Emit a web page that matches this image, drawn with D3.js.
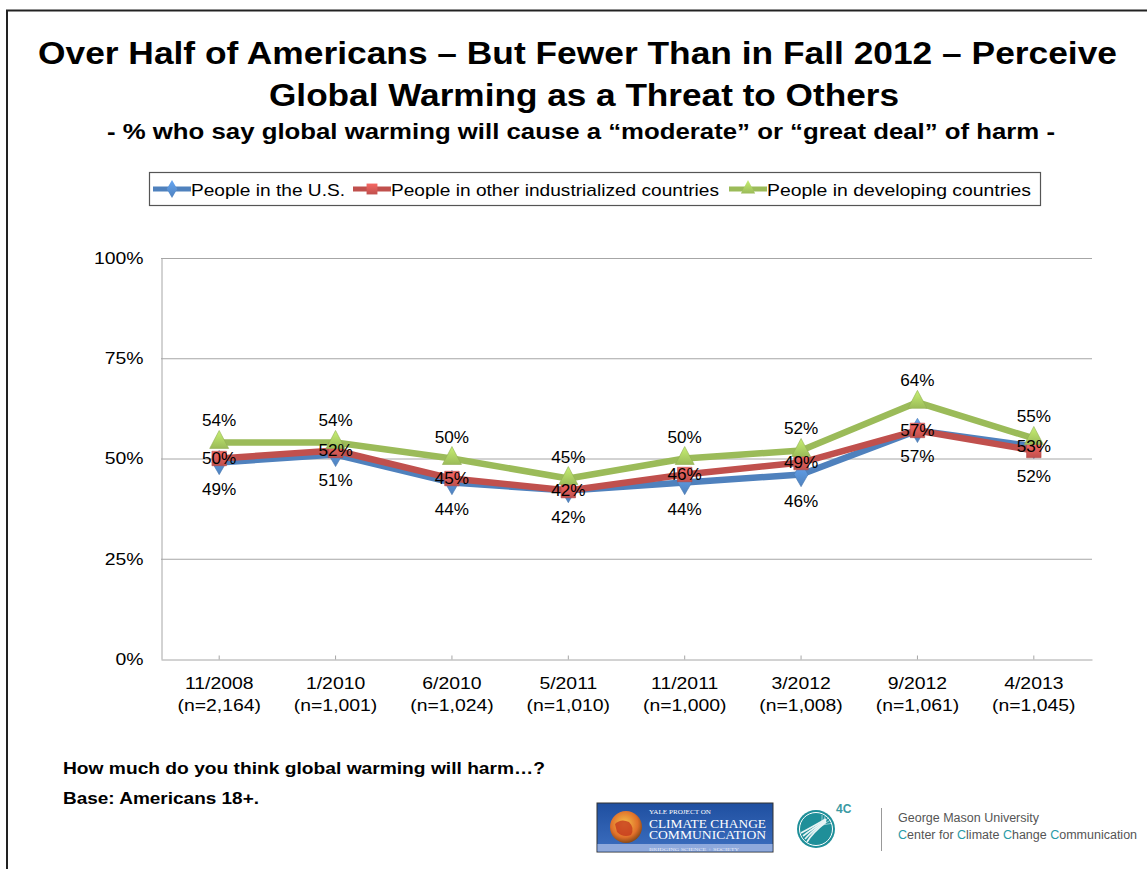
<!DOCTYPE html>
<html><head><meta charset="utf-8">
<script src="https://cdn.jsdelivr.net/npm/d3@7"></script>
<style>
html,body{margin:0;padding:0;background:#fff;}
svg{display:block;font-family:"Liberation Sans",Arial,sans-serif;}
</style></head>
<body>
<svg id="chart" width="1147" height="869"></svg>
<script>
// ---- data ----
const categories = ["11/2008","1/2010","6/2010","5/2011","11/2011","3/2012","9/2012","4/2013"];
const sampleSizes = ["(n=2,164)","(n=1,001)","(n=1,024)","(n=1,010)","(n=1,000)","(n=1,008)","(n=1,061)","(n=1,045)"];
const seriesNames = ["People in the U.S.","People in other industrialized countries","People in developing countries"];
const usValues = [49,51,44,42,44,46,57,53];
const industrializedValues = [50,52,45,42,46,49,57,52];
const developingValues = [54,54,50,45,50,52,64,55];
const yTicks = [0,25,50,75,100];
const titleLines = ["Over Half of Americans \u2013 But Fewer Than in Fall 2012 \u2013 Perceive","Global Warming as a Threat to Others"];
const subtitle = "- % who say global warming will cause a \u201cmoderate\u201d or \u201cgreat deal\u201d of harm -";
const footnotes = ["How much do you think global warming will harm\u2026?","Base: Americans 18+."];

const series = [
  {name:seriesNames[0], values:usValues, color:"#4f81bd", marker:"diamond"},
  {name:seriesNames[1], values:industrializedValues, color:"#c0504d", marker:"square"},
  {name:seriesNames[2], values:developingValues, color:"#9bbb59", marker:"triangle"}
];

const STRETCH = 1.14; // the reference text is drawn horizontally wider than the installed fonts
function stretch(sel, f){
  sel.each(function(){
    const w = this.getComputedTextLength();
    d3.select(this).attr("textLength", w*(f||STRETCH)).attr("lengthAdjust","spacingAndGlyphs");
  });
  return sel;
}
function fitTo(sel, w){ sel.attr("textLength", w).attr("lengthAdjust","spacingAndGlyphs"); return sel; }

const svg = d3.select("#chart");
const defs = svg.append("defs");

// frame
svg.append("path").attr("d","M7,869 L7,10.5 L1147,10.5").attr("fill","none").attr("stroke","#222").attr("stroke-width",2);

// titles
const tg = svg.append("g").attr("font-weight","bold").attr("text-anchor","middle").attr("fill","#000");
fitTo(tg.append("text").attr("x",577.5).attr("y",64).attr("font-size",31).text(titleLines[0]), 1079);
fitTo(tg.append("text").attr("x",584).attr("y",106).attr("font-size",31).text(titleLines[1]), 630);
fitTo(tg.append("text").attr("x",581).attr("y",139).attr("font-size",21.5).text(subtitle), 948);

// scales
const x = d3.scaleBand().domain(categories).range([161,1092]);
const y = d3.scaleLinear().domain([0,100]).range([659,258]);
const cx = c => x(c) + x.bandwidth()/2;

// gridlines
svg.append("g").selectAll("line").data(yTicks.filter(d=>d>0)).join("line")
  .attr("x1",161).attr("x2",1092).attr("y1",d=>y(d)+0.5).attr("y2",d=>y(d)+0.5)
  .attr("stroke","#a6a6a6").attr("stroke-width",1);

// y axis
const yAxis = svg.append("g").attr("transform","translate(161.5,0)")
  .call(d3.axisLeft(y).tickValues(yTicks).tickFormat(d=>d+"%").tickSize(0).tickPadding(18));
yAxis.select(".domain").attr("stroke","#a6a6a6");
stretch(yAxis.selectAll("text").attr("font-size",17).attr("fill","#000").attr("font-family","Liberation Sans, Arial, sans-serif"));

// x axis
const xAxis = svg.append("g").attr("transform","translate(0,659.5)")
  .call(d3.axisBottom(x).tickSizeInner(-4).tickSizeOuter(0).tickPadding(12));
xAxis.select(".domain").attr("stroke","#a6a6a6");
xAxis.selectAll(".tick line").attr("stroke","#a6a6a6");
xAxis.selectAll(".tick text").attr("font-size",17).attr("fill","#000").attr("font-family","Liberation Sans, Arial, sans-serif")
  .each(function(d,i){
    const t = d3.select(this); t.text(null);
    stretch(t.append("tspan").attr("x",0).attr("dy","1.05em").text(d));
    stretch(t.append("tspan").attr("x",0).attr("dy","1.3em").text(sampleSizes[i]));
  });

// lines
const line = d3.line().x((d,i)=>cx(categories[i])).y(d=>y(d));
series.forEach(s=>{
  svg.append("path").datum(s.values).attr("d",line).attr("fill","none")
    .attr("stroke",s.color).attr("stroke-width",6.5).attr("stroke-linejoin","round");
});

// markers
function markerPath(type){
  if(type==="diamond") return d3.symbol(d3.symbolDiamond,170)();
  if(type==="square") return d3.symbol(d3.symbolSquare,210)();
  return "M0,-12 L9.5,6 L-9.5,6 Z";
}
series.forEach((s,k)=>{
  const g = defs.append("linearGradient").attr("id","grad"+k).attr("x1",0).attr("y1",0).attr("x2",0).attr("y2",1);
  g.append("stop").attr("offset","0%").attr("stop-color",d3.color(s.color).brighter(0.7));
  g.append("stop").attr("offset","100%").attr("stop-color",s.color);
});
series.forEach((s,k)=>{
  svg.append("g").selectAll("path").data(s.values).join("path")
    .attr("d",markerPath(s.marker))
    .attr("transform",(d,i)=>`translate(${cx(categories[i])},${y(d)})`)
    .attr("fill",`url(#grad${k})`).attr("stroke",d3.color(s.color).darker(0.2)).attr("stroke-width",0.6);
});

// data labels: ranked per category -> highest above, middle centred, lowest below
const lg = svg.append("g").attr("font-size",16).attr("text-anchor","middle").attr("fill","#000");
categories.forEach((c,i)=>{
  const pts = series.map((s,k)=>({k,v:s.values[i]}));
  const ranked = pts.slice().sort((a,b)=>b.v-a.v || b.k-a.k);
  ranked.forEach((p,r)=>{
    let yy;
    if(r===0) yy = y(p.v) - 16;
    else if(r===1) yy = y(p.v) + 5.5;
    else yy = y(p.v) + 32;
    stretch(lg.append("text").attr("x",cx(c)).attr("y",yy).text(p.v+"%"), 1.07);
  });
});

// legend
const leg = svg.append("g");
leg.append("rect").attr("x",149.5).attr("y",172.5).attr("width",891).attr("height",33)
  .attr("fill","#fff").attr("stroke","#555").attr("stroke-width",1.2);
const legX = [153,353,729];
const legW = [154,328,264];
series.forEach((s,k)=>{
  const g = leg.append("g").attr("transform",`translate(${legX[k]},189)`);
  g.append("line").attr("x1",0).attr("x2",38).attr("stroke",s.color).attr("stroke-width",5);
  g.append("path").attr("d",markerPath(s.marker)).attr("transform","translate(19,0) scale(0.75)")
    .attr("fill",`url(#grad${k})`);
  fitTo(g.append("text").attr("x",38).attr("y",6.5).attr("font-size",17).attr("fill","#000").text(s.name), legW[k]);
});

// footnotes
const fg = svg.append("g").attr("font-weight","bold").attr("font-size",16).attr("fill","#000");
fitTo(fg.append("text").attr("x",63).attr("y",774).text(footnotes[0]), 482);
fitTo(fg.append("text").attr("x",63).attr("y",804).text(footnotes[1]), 196);

// logos
const yale = svg.append("g").attr("transform","translate(597,803)");
const yg = defs.append("linearGradient").attr("id","yaleBg").attr("x1",0).attr("y1",0).attr("x2",0).attr("y2",1);
yg.append("stop").attr("offset","0%").attr("stop-color","#1f4fa0");
yg.append("stop").attr("offset","100%").attr("stop-color","#3d6fc0");
yale.append("rect").attr("width",176).attr("height",49).attr("fill","url(#yaleBg)").attr("stroke","#333").attr("stroke-width",1);
yale.append("rect").attr("x",0.5).attr("y",41).attr("width",175).attr("height",7.5).attr("fill","#8fa9dc");
const glob = defs.append("radialGradient").attr("id","globe").attr("cx","45%").attr("cy","40%").attr("r","60%");
glob.append("stop").attr("offset","0%").attr("stop-color","#f6c34a");
glob.append("stop").attr("offset","70%").attr("stop-color","#e0702a");
glob.append("stop").attr("offset","100%").attr("stop-color","#8a4a18");
yale.append("circle").attr("cx",29).attr("cy",24).attr("r",16).attr("fill","url(#globe)");
yale.append("path").attr("d","M18,21 Q24,15 32,19 Q38,25 34,32 Q26,35 20,29 Z").attr("fill","#c63a1e").attr("opacity",0.8);
const yt = yale.append("g").attr("fill","#fff").attr("font-family","Liberation Serif, serif");
fitTo(yt.append("text").attr("x",52).attr("y",11).attr("font-size",6).text("YALE PROJECT ON"), 62);
fitTo(yt.append("text").attr("x",52).attr("y",25).attr("font-size",11.5).text("CLIMATE CHANGE"), 117);
fitTo(yt.append("text").attr("x",52).attr("y",36).attr("font-size",11.5).text("COMMUNICATION"), 117);
fitTo(yt.append("text").attr("x",52).attr("y",47.5).attr("font-size",5).attr("fill","#e8ecf8").text("BRIDGING SCIENCE + SOCIETY"), 90);

const fc = svg.append("g").attr("transform","translate(816,829)");
fc.append("circle").attr("r",19).attr("fill","#1f8f99");
fc.append("circle").attr("r",16.5).attr("fill","none").attr("stroke","#fff").attr("stroke-width",1);
[0,1,2,3].forEach(i=>{
  fc.append("path").attr("d",`M${-15+i*2},${4+i*3} Q${-4},${-2+i*2} ${10},${-10+i}`)
    .attr("fill","none").attr("stroke","#e8f4f5").attr("stroke-width",1.6);
});
[0,1,2,3,4].forEach(i=>{
  const a = -Math.PI/2 + i*0.35;
  fc.append("line").attr("x1",6).attr("y1",-4).attr("x2",6+10*Math.cos(a)).attr("y2",-4+10*Math.sin(a))
    .attr("stroke","#e8f4f5").attr("stroke-width",0.6);
});
svg.append("text").attr("x",836).attr("y",813).attr("font-size",12).attr("font-weight","bold").attr("fill","#3a9aa3").text("4C");
svg.append("line").attr("x1",881.5).attr("x2",881.5).attr("y1",808).attr("y2",851).attr("stroke","#999").attr("stroke-width",1);
const gm = svg.append("g").attr("font-size",12.5).attr("fill","#555");
gm.append("text").attr("x",898).attr("y",822).text("George Mason University");
const ct = gm.append("text").attr("x",898).attr("y",839);
[["C",1],["enter for ",0],["C",1],["limate ",0],["C",1],["hange ",0],["C",1],["ommunication",0]].forEach(p=>{
  ct.append("tspan").attr("fill",p[1]?"#2a9ba6":"#555").text(p[0]);
});
</script>
</body></html>
